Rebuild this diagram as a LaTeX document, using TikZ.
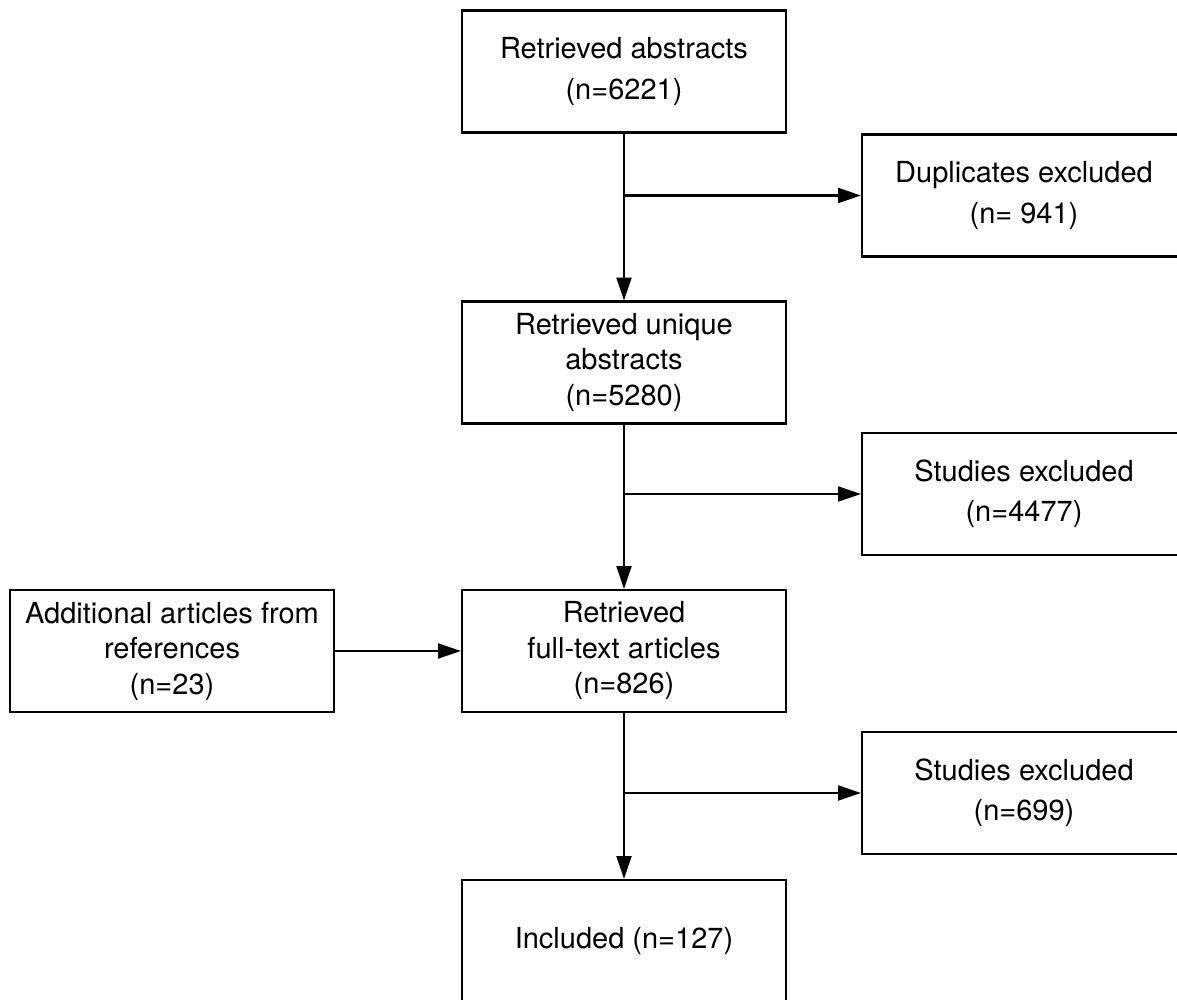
\documentclass[tikz,border=0pt]{standalone}
\usepackage{fontspec}
\setmainfont{TeX Gyre Heros}
\usetikzlibrary{arrows.meta}

\begin{document}
\begin{tikzpicture}[line width=1.2pt,
    box/.style={draw, rectangle, align=center, minimum width=6.48cm,
        minimum height=2.44cm, inner sep=0pt,
        font=\fontsize{16.5}{22.8}\selectfont},
    tribox/.style={box, font=\fontsize{16.5}{20.2}\selectfont},
    arr/.style={-{Triangle[length=13pt,width=8.5pt]}}]
    \useasboundingbox (0,0) rectangle (23.54,20);

    \node[box] (abs) at (12.48,18.57) {Retrieved abstracts\\(n=6221)};
    \node[box] (dup) at (20.48,16.09) {Duplicates excluded\\(n= 941)};
    \node[tribox] (uniq) at (12.48,12.75) {Retrieved unique\\abstracts\\(n=5280)};
    \node[box] (excl1) at (20.48,10.12) {Studies excluded\\(n=4477)};
    \node[tribox] (add) at (3.44,6.98) {Additional articles from\\references\\(n=23)};
    \node[tribox] (full) at (12.48,6.98) {Retrieved\\full-text articles\\(n=826)};
    \node[box] (excl2) at (20.48,4.14) {Studies excluded\\(n=699)};
    \node[box] (incl) at (12.48,1.18) {Included (n=127)};

    % Hauptstrang nach unten, Ausschluesse zweigen nach rechts ab
    \draw[arr] (abs) -- (uniq);
    \draw[arr] (abs.south |- dup.west) -- (dup.west);
    \draw[arr] (uniq) -- (full);
    \draw[arr] (uniq.south |- excl1.west) -- (excl1.west);
    \draw[arr] (add) -- (full);
    \draw[arr] (full) -- (incl);
    \draw[arr] (full.south |- excl2.west) -- (excl2.west);
\end{tikzpicture}
\end{document}
